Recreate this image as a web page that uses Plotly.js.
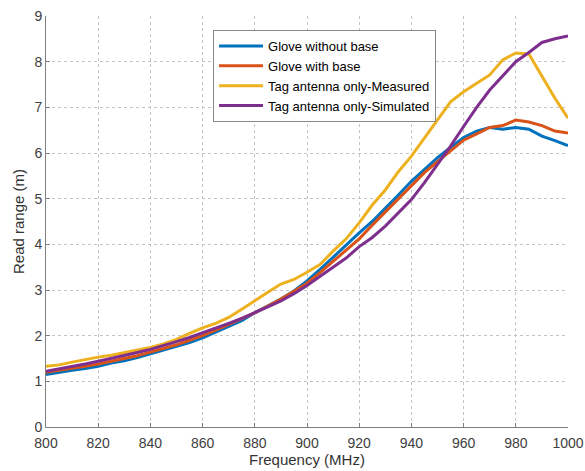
<!DOCTYPE html>
<html>
<head>
<meta charset="utf-8">
<script src="https://cdn.plot.ly/plotly-3.0.1.min.js"></script>
<style>html,body{margin:0;padding:0;background:#fff;}#chart{width:585px;height:471px;}</style>
</head>
<body>
<div id="chart"></div>
<script>
const freq = [800,805,810,815,820,825,830,835,840,845,850,855,860,865,870,875,880,885,890,895,900,905,910,915,920,925,930,935,940,945,950,955,960,965,970,975,980,985,990,995,1000];
const gloveWithoutBase = [1.15,1.2,1.24,1.28,1.33,1.4,1.45,1.52,1.6,1.68,1.77,1.85,1.95,2.08,2.2,2.33,2.5,2.65,2.8,2.98,3.2,3.45,3.72,3.98,4.25,4.5,4.78,5.08,5.38,5.65,5.9,6.12,6.34,6.48,6.56,6.52,6.56,6.52,6.37,6.27,6.16];
const gloveWithBase = [1.2,1.24,1.28,1.33,1.38,1.44,1.5,1.56,1.64,1.72,1.8,1.9,2.0,2.12,2.25,2.38,2.5,2.65,2.8,2.97,3.15,3.38,3.62,3.88,4.12,4.42,4.71,5.0,5.3,5.57,5.81,6.05,6.28,6.42,6.56,6.6,6.72,6.68,6.6,6.48,6.44];
const tagMeasured = [1.33,1.36,1.42,1.48,1.53,1.57,1.63,1.68,1.74,1.82,1.92,2.05,2.17,2.27,2.4,2.58,2.77,2.95,3.13,3.23,3.39,3.56,3.85,4.12,4.47,4.86,5.19,5.59,5.93,6.32,6.72,7.12,7.34,7.52,7.71,8.04,8.19,8.17,7.68,7.2,6.76];
const tagSimulated = [1.22,1.27,1.32,1.38,1.44,1.5,1.56,1.63,1.7,1.78,1.87,1.96,2.06,2.16,2.27,2.38,2.5,2.63,2.76,2.92,3.1,3.3,3.5,3.7,3.95,4.15,4.4,4.68,4.98,5.35,5.75,6.15,6.58,7.0,7.38,7.7,8.0,8.2,8.42,8.5,8.56];
const seriesNames = ["Glove without base","Glove with base","Tag antenna only-Measured","Tag antenna only-Simulated"];
const xTicks = [800,820,840,860,880,900,920,940,960,980,1000];
const yTicks = [0,1,2,3,4,5,6,7,8,9];

const colors = ["#0072BD","#D95319","#EDB120","#7E2F8E"];
const ys = [gloveWithoutBase, gloveWithBase, tagMeasured, tagSimulated];
const traces = ys.map((y,i)=>({
  x: freq, y: y, type:"scatter", mode:"lines", name: seriesNames[i],
  line:{color:colors[i], width:3}
}));

const fam = "Liberation Sans, Arial, sans-serif";
const layout = {
  width:585, height:471,
  margin:{l:46, r:17, t:16, b:44},
  paper_bgcolor:"#fff", plot_bgcolor:"#fff",
  font: {family:fam, size:13, color:"#333"},
  showlegend:true,
  legend:{x:0.32, y:0.966, xanchor:"left", yanchor:"top", bgcolor:"#fff", bordercolor:"#888", borderwidth:1,
    font:{family:fam, size:13, color:"#000"}, tracegroupgap:0, itemwidth:44},
  xaxis:{
    range:[800,1000], tickvals:xTicks, ticktext:xTicks.map(String),
    showgrid:true, gridcolor:"#c4c4c4", griddash:"dot", gridwidth:1,
    showline:true, linecolor:"#808080", linewidth:1, mirror:false,
    ticks:"inside", ticklen:4, tickcolor:"#808080", zeroline:false,
    tickfont:{size:14, color:"#404040"}, ticklabelstandoff:3,
    title:{text:"Frequency (MHz)", font:{size:15, color:"#333"}, standoff:4},
    automargin:false
  },
  yaxis:{
    range:[0,9], tickvals:yTicks, ticktext:yTicks.map(String),
    showgrid:true, gridcolor:"#c4c4c4", griddash:"dot", gridwidth:1,
    showline:true, linecolor:"#808080", linewidth:1, mirror:false,
    ticks:"inside", ticklen:4, tickcolor:"#808080", zeroline:false,
    tickfont:{size:14, color:"#404040"},
    title:{text:"Read range (m)", font:{size:15, color:"#333"}, standoff:6},
    automargin:false
  }
};
Plotly.newPlot("chart", traces, layout, {displayModeBar:false, staticPlot:true});
</script>
</body>
</html>
